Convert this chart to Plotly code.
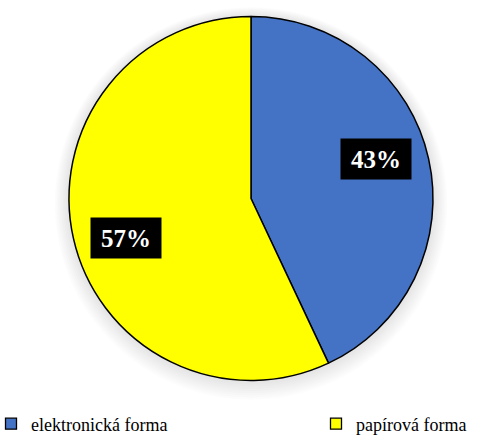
import math
import plotly.graph_objects as go

labels = ["elektronická forma", "papírová forma"]
values = [43, 57]
colors = ["#4472C4", "#FFFF00"]

W, H = 503, 437
cx, cy, R = 251, 198.5, 182  # pixel centre/radius

dom_x = [(cx - R) / W, (cx + R) / W]
dom_y = [(H - cy - R) / H, (H - cy + R) / H]

SERIF = "Times New Roman, Liberation Serif, serif"

fig = go.Figure()
fig.add_trace(go.Pie(
    labels=labels, values=values, sort=False, direction="clockwise", rotation=0,
    marker=dict(colors=colors, line=dict(color="black", width=1.5)),
    textinfo="none", hoverinfo="label+percent", showlegend=False,
    domain=dict(x=dom_x, y=dom_y),
))

# legend entries (one legend per label, as in the original layout)
legend_names = ["legend", "legend2"]
for lab, col, lg in zip(labels, colors, legend_names):
    fig.add_trace(go.Scatter(
        x=[None], y=[None], mode="markers", name=lab, legend=lg,
        marker=dict(symbol="square", size=11, color=col,
                    line=dict(color="black", width=1.3)),
        hoverinfo="skip",
    ))

# soft glow / shadow around the pie
for i in range(9):
    off = 1.5 + i * 1.6
    dy = 0.35 * off
    fig.add_shape(type="circle", xref="paper", yref="paper", layer="below",
                  x0=(cx - R - off) / W, x1=(cx + R + off) / W,
                  y0=(H - cy - R - off - dy) / H, y1=(H - cy + R + off - dy) / H,
                  fillcolor="rgba(0,0,0,0.012)", line=dict(width=0))

total = sum(values)
start = 0.0
for lab, v in zip(labels, values):
    frac = v / total
    mid = (start + frac / 2) * 360 - 5
    start += frac
    a = math.radians(mid)
    px = cx + 0.72 * R * math.sin(a)
    py = cy - 0.72 * R * math.cos(a)
    fig.add_annotation(x=px / W, y=(H - py) / H, xref="paper", yref="paper",
                       xanchor="center", yanchor="middle",
                       text=f"<b>{round(frac*100)}%</b>", showarrow=False,
                       font=dict(family=SERIF, size=25, color="white"),
                       bgcolor="black", width=70, height=40, borderpad=0)

leg_common = dict(orientation="h", yanchor="middle", xanchor="left",
                  font=dict(family=SERIF, size=18, color="black"),
                  itemwidth=30, bgcolor="rgba(0,0,0,0)")
fig.update_layout(
    width=W, height=H, margin=dict(l=0, r=0, t=0, b=0, autoexpand=False),
    paper_bgcolor="white", plot_bgcolor="white",
    xaxis=dict(visible=False), yaxis=dict(visible=False),
    showlegend=True,
    legend=dict(x=-9 / W, y=(H - 424) / H, **leg_common),
    legend2=dict(x=316 / W, y=(H - 424) / H, **leg_common),
)
fig.write_html("out.html", config={"displayModeBar": False},
               post_script="document.body.style.margin='0';document.body.style.padding='0';")
